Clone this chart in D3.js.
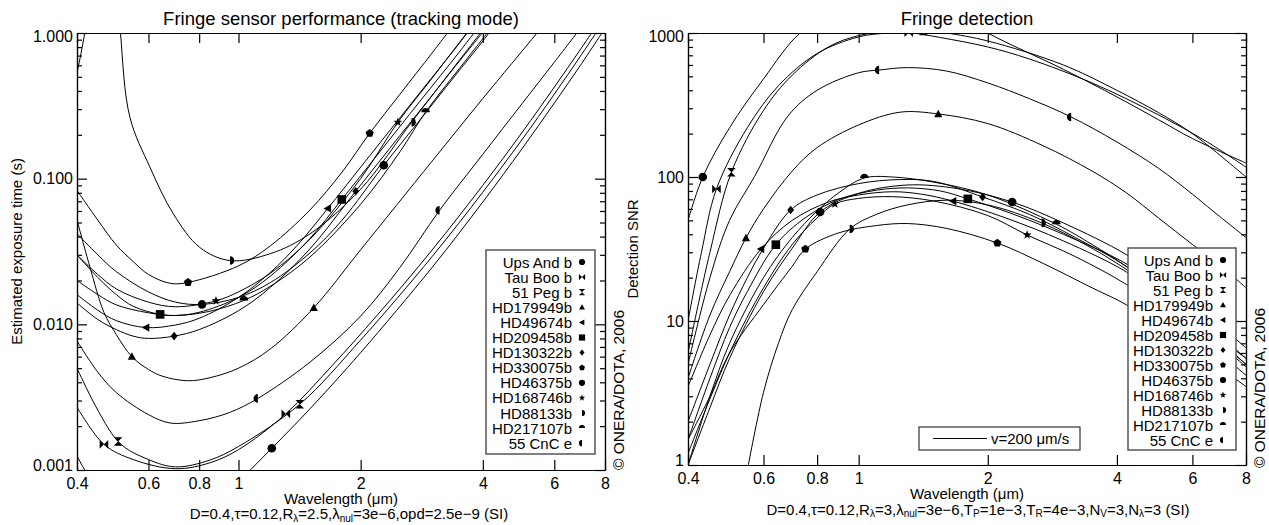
<!DOCTYPE html>
<html><head><meta charset="utf-8">
<script src="https://cdn.jsdelivr.net/npm/d3@7"></script>
<style>
body{margin:0;background:#fff}
text{font-family:"Liberation Sans",Arial,Helvetica,sans-serif;fill:#000}
</style>
</head><body>
<svg id="c" width="1269" height="525"></svg>
<script>
// ---------- planets, legend order and marker symbols ----------
const planets = ["Ups And b","Tau Boo b","51 Peg b","HD179949b","HD49674b","HD209458b",
  "HD130322b","HD330075b","HD46375b","HD168746b","HD88133b","HD217107b","55 CnC e"];
const symbolNames = ["circle","bowtieH","bowtieV","triUp","triLeft","square",
  "diamond","pentagon","circle","star","halfRight","halfTop","halfLeft"];

// ---------- tick values ----------
const xTicks = [0.4,0.6,0.8,1,2,4,6,8];
const xTickLabels = ["0.4","0.6","0.8","1","2","4","6","8"];
const yTicksExp = [0.001,0.01,0.1,1];
const yTickLabelsExp = ["0.001","0.010","0.100","1.000"];
const yTicksSnr = [1,10,100,1000];
const yTickLabelsSnr = ["1","10","100","1000"];

// ---------- estimated exposure time (s) vs wavelength (µm); third entry marks a plotted symbol ----------
const expUpsAndB = [[0.4,0.00125],[0.42,0.00098],[0.46,0.0007],null,[0.9,0.00062],[1.0,0.00083],[1.208,0.00141,1],[1.5,0.00263],[2.0,0.0064],[3.0,0.0246],[4.0,0.0692],[5.0,0.161],[6.0,0.33],[7.0,0.615],[7.8,0.966],[8.0,1.07]];
const expTauBoo = [[0.4,0.0027],[0.466,0.0015,1],[0.55,0.00118],[0.7,0.00102],[0.85,0.00112],[1.0,0.00138],[1.308,0.00243,1],[1.7,0.0052],[2.2,0.0116],[3.0,0.0324],[4.0,0.0901],[5.0,0.208],[6.0,0.425],[7.0,0.79],[8.0,1.37]];
const exp51Peg = [[0.4,0.005],[0.505,0.00157,1],[0.6,0.00118],[0.7,0.00105],[0.85,0.00117],[1.0,0.00145],[1.416,0.00283,1],[2.0,0.0078],[3.0,0.0292],[4.0,0.0808],[5.0,0.186],[6.0,0.38],[7.0,0.71],[8.0,1.24]];
const expHD179949b = [[0.4,0.052],[0.43,0.025],[0.466,0.0121],[0.5,0.0085],[0.546,0.006,1],[0.6,0.0049],[0.65,0.0044],[0.75,0.0041],[0.85,0.0043],[1.0,0.005],[1.2,0.0068],[1.533,0.013,1],[2.0,0.0325],[3.0,0.132],[4.0,0.355],[5.44,1.0],[6.0,1.4]];
const expHD49674b = [[0.4,0.016],[0.45,0.0125],[0.5,0.0106],[0.592,0.0095,1],[0.7,0.0099],[0.8,0.011],[1.0,0.0153],[1.2,0.0228],[1.4,0.0352],[1.66,0.0625,1],[2.0,0.12],[2.5,0.262],[3.0,0.496],[3.5,0.85],[3.8,1.15]];
const expHD209458b = [[0.4,0.03],[0.45,0.021],[0.5,0.016],[0.55,0.0133],[0.641,0.0117,1],[0.7,0.0115],[0.8,0.0121],[1.0,0.0153],[1.2,0.0215],[1.5,0.0389],[1.797,0.072,1],[2.2,0.146],[2.8,0.34],[3.5,0.74],[4.0,1.2]];
const expHD130322b = [[0.4,0.014],[0.45,0.0108],[0.5,0.0092],[0.55,0.0083],[0.6,0.008],[0.694,0.0083,1],[0.8,0.0092],[1.0,0.0124],[1.2,0.018],[1.5,0.033],[1.945,0.082,1],[2.5,0.198],[3.0,0.373],[3.5,0.64],[4.1,1.1]];
const expHD330075b = [[0.4,0.083],[0.45,0.052],[0.5,0.035],[0.55,0.027],[0.6,0.022],[0.68,0.0191],[0.751,0.0194,1],[1.0,0.0252],[1.2,0.0347],[1.5,0.061],[1.8,0.111],[2.105,0.205,1],[2.5,0.38],[3.0,0.73],[3.4,1.15]];
const expHD46375b = [[0.4,0.042],[0.45,0.03],[0.5,0.023],[0.6,0.0167],[0.7,0.0142],[0.813,0.0137,1],[1.0,0.0153],[1.2,0.0194],[1.5,0.0309],[1.8,0.0519],[2.28,0.1235,1],[2.8,0.253],[3.4,0.5],[4.0,0.88],[4.3,1.15]];
const expHD168746b = [[0.4,0.03],[0.45,0.022],[0.5,0.0175],[0.6,0.0142],[0.7,0.0132],[0.88,0.0145,1],[1.0,0.0167],[1.2,0.0225],[1.5,0.0384],[2.0,0.1002],[2.47,0.244,1],[3.0,0.49],[3.6,0.95],[3.8,1.15]];
const expHD88133b = [[0.4,0.53],[0.409,0.72],[0.418,1.0],[0.428,1.5],null,[0.497,4.0],[0.512,1.0],[0.54,0.264],[0.605,0.12],[0.69,0.0577],[0.803,0.0337],[0.953,0.0274,1],[1.2,0.0306],[1.5,0.0418],[2.0,0.0847],[2.67,0.244,1],[3.2,0.47],[4.0,1.05]];
const expHD217107b = [[0.4,0.02],[0.45,0.016],[0.5,0.0136],[0.6,0.012],[0.7,0.0115],[0.85,0.0123],[1.031,0.0146,1],[1.2,0.0183],[1.5,0.029],[2.0,0.0668],[2.5,0.153],[2.89,0.286,1],[3.5,0.57],[4.1,1.0],[4.3,1.2]];
const exp55CnCe = [[0.4,0.0077],[0.45,0.0047],[0.5,0.0034],[0.6,0.0024],[0.68,0.0021],[0.8,0.00218],[0.95,0.00248],[1.116,0.0031,1],[1.5,0.0055],[2.0,0.0114],[2.5,0.0246],[3.13,0.0607,1],[4.0,0.147],[5.0,0.328],[6.0,0.63],[7.0,1.1]];

// ---------- detection SNR vs wavelength (µm) ----------
const snrUpsAndB = [[0.4,50],[0.433,100,1],[0.5,220],[0.6,480],[0.73,1000],[0.9,1450],[1.2,1700],[1.6,1500],[2.0,1000],[3.0,560],[4.0,360],[5.0,250],[6.0,185],[8.0,125]];
const snrTauBoo = [[0.4,10],[0.43,30],[0.466,82.6,1],[0.55,220],[0.65,430],[0.8,720],[1.0,940],[1.15,995],[1.308,1005,1],[1.55,930],[2.0,800],[2.5,660],[3.5,450],[5.0,270],[6.5,175],[8.0,117]];
const snr51Peg = [[0.4,6],[0.45,30],[0.505,108,1],[0.6,290],[0.7,510],[0.85,800],[1.0,960],[1.2,1030],[1.416,1035,1],[1.6,1000],[2.0,880],[3.0,600],[4.0,400],[5.0,280],[6.0,200],[8.0,100]];
const snrHD179949b = [[0.4,4],[0.45,11],[0.5,22],[0.546,37.7,1],[0.6,60],[0.7,110],[0.8,160],[1.0,230],[1.25,282],[1.533,274,1],[2.0,235],[2.69,165],[3.5,110],[4.2,78],[5.0,52],[6.0,34],[7.0,24],[8.0,17]];
const snrHD49674b = [[0.4,3.5],[0.45,8],[0.5,15],[0.592,31.6,1],[0.7,50],[0.85,67],[1.0,75],[1.2,79],[1.4,76],[1.66,68,1],[2.2,52],[3.0,36],[4.2,22],[5.0,15],[6.0,10],[8.0,4.8]];
const snrHD209458b = [[0.4,1.5],[0.45,4],[0.5,9],[0.55,16],[0.641,33.9,1],[0.75,52],[0.9,70],[1.1,81],[1.3,84],[1.55,80],[1.797,70.5,1],[2.3,55],[3.0,40],[4.2,25],[5.0,17],[6.0,11.5],[8.0,5.5]];
const snrHD130322b = [[0.4,2],[0.45,5],[0.5,11],[0.55,20],[0.6,32],[0.694,59,1],[0.8,75],[1.0,90],[1.25,96],[1.5,93],[1.945,72.7,1],[2.5,55],[3.2,38],[4.2,24],[5.0,16],[6.0,10.5],[8.0,5.5]];
const snrHD330075b = [[0.4,1.5],[0.45,3],[0.5,6],[0.6,13],[0.7,24],[0.751,31.6,1],[0.9,41],[1.1,46],[1.3,47.5],[1.6,44],[2.105,34.8,1],[2.7,25],[3.5,17],[4.2,13],[5.0,9],[6.0,6.5],[8.0,3.5]];
const snrHD46375b = [[0.4,1],[0.45,2.5],[0.5,5.5],[0.6,16],[0.7,32],[0.813,57.1,1],[1.0,77],[1.3,88],[1.7,83],[2.28,67,1],[3.0,48],[4.2,29],[5.0,20],[6.0,13.5],[8.0,6.5]];
const snrHD168746b = [[0.4,1.2],[0.5,6],[0.6,17],[0.7,34],[0.8,52],[0.88,65,1],[1.0,71],[1.2,73],[1.5,68],[2.0,54],[2.47,39.6,1],[3.2,28],[4.2,18],[5.0,12.5],[6.0,8.5],[8.0,4.2]];
const snrHD88133b = [[0.553,1],[0.6,3.2],[0.65,7],[0.7,12],[0.8,22],[0.953,43.5,1],[1.1,55],[1.3,64],[1.6,69],[2.0,64],[2.67,48,1],[3.5,32],[4.5,20],[5.5,13],[6.5,8.5],[8.0,5]];
const snrHD217107b = [[0.4,1.0],[0.45,3],[0.5,7],[0.6,20],[0.7,38],[0.8,58],[0.9,78],[1.031,98.4,1],[1.2,100],[1.5,92],[2.0,75],[2.89,47,1],[3.5,34],[4.2,24],[5.0,16],[6.0,10.5],[8.0,5]];
const snr55CnCe = [[0.4,5],[0.45,20],[0.5,50],[0.572,101],[0.684,265],[0.8,400],[1.0,530],[1.116,553,1],[1.3,575],[1.6,545],[2.0,450],[2.5,350],[3.13,261,1],[4.0,175],[5.0,115],[6.0,76],[6.7,58],[8.0,38]];

const exposureSeries = [expUpsAndB,expTauBoo,exp51Peg,expHD179949b,expHD49674b,expHD209458b,
  expHD130322b,expHD330075b,expHD46375b,expHD168746b,expHD88133b,expHD217107b,exp55CnCe];
const snrSeries = [snrUpsAndB,snrTauBoo,snr51Peg,snrHD179949b,snrHD49674b,snrHD209458b,
  snrHD130322b,snrHD330075b,snrHD46375b,snrHD168746b,snrHD88133b,snrHD217107b,snr55CnCe];

// ---------- marker shapes ----------
function symbolPath(name, r){
  const p = d3.path();
  switch(name){
    case "circle": p.arc(0,0,r,0,2*Math.PI); break;
    case "square": p.rect(-r,-r,2*r,2*r); break;
    case "triUp": p.moveTo(0,-r); p.lineTo(r*0.95,r*0.75); p.lineTo(-r*0.95,r*0.75); p.closePath(); break;
    case "triLeft": p.moveTo(-r,0); p.lineTo(r*0.75,-r*0.95); p.lineTo(r*0.75,r*0.95); p.closePath(); break;
    case "diamond": p.moveTo(0,-r); p.lineTo(r*0.8,0); p.lineTo(0,r); p.lineTo(-r*0.8,0); p.closePath(); break;
    case "pentagon":
      for(let i=0;i<5;i++){const a=-Math.PI/2+i*2*Math.PI/5; const x=r*Math.cos(a), y=r*Math.sin(a); i?p.lineTo(x,y):p.moveTo(x,y);}
      p.closePath(); break;
    case "star":
      for(let i=0;i<10;i++){const a=-Math.PI/2+i*Math.PI/5; const rr=i%2?r*0.45:r*1.1; const x=rr*Math.cos(a), y=rr*Math.sin(a); i?p.lineTo(x,y):p.moveTo(x,y);}
      p.closePath(); break;
    case "bowtieH": p.moveTo(-r,-r); p.lineTo(0,0); p.lineTo(-r,r); p.closePath(); p.moveTo(r,-r); p.lineTo(0,0); p.lineTo(r,r); p.closePath(); break;
    case "bowtieV": p.moveTo(-r,-r); p.lineTo(r,-r); p.lineTo(0,0); p.closePath(); p.moveTo(-r,r); p.lineTo(r,r); p.lineTo(0,0); p.closePath(); break;
    case "halfRight": p.moveTo(0,-r); p.arc(0,0,r,-Math.PI/2,Math.PI/2,false); p.closePath(); break;
    case "halfLeft": p.moveTo(0,-r); p.arc(0,0,r,-Math.PI/2,Math.PI/2,true); p.closePath(); break;
    case "halfTop": p.moveTo(-r,0); p.arc(0,0,r,Math.PI,0,false); p.closePath(); break;
  }
  return p.toString();
}

const svg = d3.select("#c");
const TICK_FONT = 16, LABEL_FONT = 15, SUB_SHIFT = 2.5;

function drawPanel(cfg){
  const x = d3.scaleLog().domain([0.4,8]).range([cfg.left,cfg.right]);
  const y = d3.scaleLog().domain(cfg.ydom).range([cfg.bottom,cfg.top]);
  const g = svg.append("g");
  const clipId = "clip"+cfg.id;
  svg.append("clipPath").attr("id",clipId).append("rect")
    .attr("x",cfg.left).attr("y",cfg.top).attr("width",cfg.right-cfg.left).attr("height",cfg.bottom-cfg.top);

  // curves and their symbols
  const line = d3.line().defined(d=>d!==null).x(d=>x(d[0])).y(d=>y(d[1])).curve(d3.curveCatmullRom.alpha(0.5));
  const plot = g.append("g").attr("clip-path",`url(#${clipId})`);
  cfg.series.forEach(s=>{
    plot.append("path").attr("d",line(s)).attr("fill","none").attr("stroke","#000").attr("stroke-width",1);
  });
  cfg.series.forEach((s,i)=>{
    s.filter(d=>d && d[2]).forEach(d=>{
      plot.append("path").attr("d",symbolPath(symbolNames[i],4.3))
        .attr("transform",`translate(${x(d[0])},${y(d[1])})`).attr("fill","#000");
    });
  });

  // y minor ticks (2..9 per decade)
  const minor = [];
  for(let e=Math.log10(cfg.ydom[0]); e<Math.log10(cfg.ydom[1]); e++)
    for(let m=2;m<=9;m++) minor.push(m*Math.pow(10,e));
  const axStyle = sel=>{sel.selectAll("path,line").attr("stroke","#000").attr("stroke-width",1.2);
    sel.selectAll("text").style("font-size",TICK_FONT+"px").attr("fill","#000");};

  g.append("g").attr("transform",`translate(0,${cfg.bottom})`)
    .call(d3.axisBottom(x).tickValues(xTicks).tickFormat((d,i)=>xTickLabels[i]).tickSize(-10).tickSizeOuter(0).tickPadding(8)).call(axStyle);
  g.append("g").attr("transform",`translate(0,${cfg.top})`)
    .call(d3.axisTop(x).tickValues(xTicks).tickFormat("").tickSize(-10).tickSizeOuter(0)).call(axStyle);
  const yAxis = g.append("g").attr("transform",`translate(${cfg.left},0)`)
    .call(d3.axisLeft(y).tickValues(cfg.yticks).tickFormat((d,i)=>cfg.ylabels[i]).tickSize(-10).tickSizeOuter(0).tickPadding(4)).call(axStyle);
  // end labels are kept inside the frame's vertical extent
  const yt = yAxis.selectAll(".tick text");
  yt.filter((d,i)=>i===0).attr("y",-5);
  yt.filter((d,i)=>i===cfg.yticks.length-1).attr("y",3);
  g.append("g").attr("transform",`translate(${cfg.left},0)`)
    .call(d3.axisLeft(y).tickValues(minor).tickFormat("").tickSize(-5).tickSizeOuter(0)).call(axStyle);
  g.append("g").attr("transform",`translate(${cfg.right},0)`)
    .call(d3.axisRight(y).tickValues(cfg.yticks).tickFormat("").tickSize(-10).tickSizeOuter(0)).call(axStyle);
  g.append("g").attr("transform",`translate(${cfg.right},0)`)
    .call(d3.axisRight(y).tickValues(minor).tickFormat("").tickSize(-5).tickSizeOuter(0)).call(axStyle);

  // titles
  const cx = (cfg.left+cfg.right)/2;
  g.append("text").attr("x",cx).attr("y",25).attr("text-anchor","middle").style("font-size","18.5px").text(cfg.title);
  g.append("text").attr("x",cx).attr("y",cfg.bottom+cfg.xtitleDy).attr("text-anchor","middle").style("font-size",LABEL_FONT+"px").text("Wavelength (μm)");
  // parameter line: plain parts on the baseline, subscripts lowered and smaller
  const sub = g.append("text").attr("x",cx+cfg.subShift).attr("y",cfg.bottom+cfg.subDy).attr("text-anchor","middle").style("font-size",LABEL_FONT+"px");
  let lowered = false;
  cfg.subtitle.forEach(part=>{
    if(typeof part==="string"){
      const t = sub.append("tspan").text(part);
      if(lowered){ t.attr("dy",-SUB_SHIFT); lowered=false; }
    } else {
      sub.append("tspan").attr("dy",SUB_SHIFT).style("font-size","10px").text(part.sub);
      lowered = true;
    }
  });
  g.append("text").attr("transform",`translate(${cfg.ytitleX},${(cfg.top+cfg.bottom)/2}) rotate(-90)`)
    .attr("text-anchor","middle").style("font-size",LABEL_FONT+"px").text(cfg.ytitle);
  g.append("text").attr("transform",`translate(${cfg.right+19},${cfg.copyY}) rotate(-90)`)
    .attr("text-anchor","middle").style("font-size","15.5px").text("© ONERA/DOTA, 2006");

  // planet legend
  const lg = g.append("g");
  lg.append("rect").attr("x",cfg.legend[0]).attr("y",cfg.legend[1]).attr("width",cfg.legend[2]).attr("height",cfg.legend[3])
    .attr("fill","#fff").attr("stroke","#555").attr("stroke-width",1.5);
  planets.forEach((name,i)=>{
    const ry = cfg.legend[1]+12+i*cfg.legendStep;
    lg.append("text").attr("x",cfg.legend[0]+cfg.legend[2]-23).attr("y",ry+5.5).attr("text-anchor","end")
      .style("font-size",LABEL_FONT+"px").text(name);
    lg.append("path").attr("d",symbolPath(symbolNames[i],3.1))
      .attr("transform",`translate(${cfg.legend[0]+cfg.legend[2]-13},${ry})`).attr("fill","#000");
  });
}

drawPanel({id:"L",left:77,right:605,top:33,bottom:470,ydom:[0.001,1],
  yticks:yTicksExp,ylabels:yTickLabelsExp,series:exposureSeries,
  title:"Fringe sensor performance (tracking mode)",ytitle:"Estimated exposure time (s)",ytitleX:22,
  xtitleDy:34,subDy:49,
  subtitle:["D=0.4,τ=0.12,R",{sub:"λ"},"=2.5,λ",{sub:"nul"},"=3e−6,opd=2.5e−9 (SI)"],subShift:8,
  legend:[486,250,109,204],legendStep:15.1,copyY:390});

drawPanel({id:"R",left:688,right:1246,top:33,bottom:465,ydom:[1,1000],
  yticks:yTicksSnr,ylabels:yTickLabelsSnr,series:snrSeries,
  title:"Fringe detection",ytitle:"Detection SNR",ytitleX:638,
  xtitleDy:34,subDy:49.5,
  subtitle:["D=0.4,τ=0.12,R",{sub:"λ"},"=3,λ",{sub:"nul"},"=3e−6,T",{sub:"P"},"=1e−3,T",{sub:"R"},"=4e−3,N",{sub:"V"},"=3,N",{sub:"λ"},"=3 (SI)"],subShift:11,
  legend:[1128,248,108,202],legendStep:15,copyY:388});

// speed legend in the SNR panel
const vg = svg.append("g");
vg.append("rect").attr("x",919).attr("y",427).attr("width",161).attr("height",23).attr("fill","#fff").attr("stroke","#333").attr("stroke-width",1.2);
vg.append("line").attr("x1",933).attr("x2",987).attr("y1",438.5).attr("y2",438.5).attr("stroke","#000");
vg.append("text").attr("x",991).attr("y",444).style("font-size",LABEL_FONT+"px").text("v=200 μm/s");
</script>
</body></html>
